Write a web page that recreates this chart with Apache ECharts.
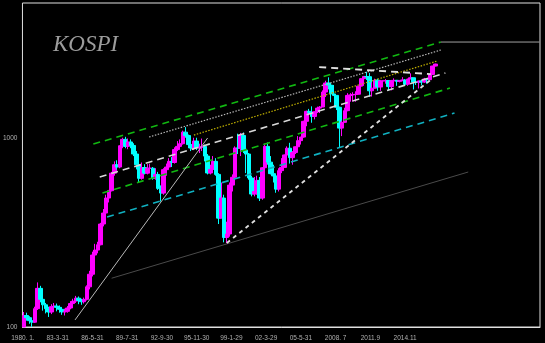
<!DOCTYPE html>
<html><head><meta charset="utf-8">
<script src="https://cdn.jsdelivr.net/npm/echarts@6/dist/echarts.min.js"></script>
<style>html,body{margin:0;padding:0;background:#000}#c{width:545px;height:343px}</style>
</head><body><div id="c"></div><script>
// ---- data ----
const firstYear = 1980;
const monthCount = 566; // monthly category slots shown on the axis (1980.1 onward)
const tickLabels = ['1980. 1.','83-3-31','86-5-31','89-7-31','92-9-30','95-11-30','99-1-29','02-3-29','05-5-31','2008. 7','2011.9','2014.11'];
const tickEvery = 38; // months between tick labels

// quarterly KOSPI candles, 1980Q1 .. 2017Q3
const qOpen = [
 100,115,112,108, 106,125,160,140, 131,125,120,128, 129,127,124,120, 121,126,133,137,
 142,138,136,140, 163,190,240,255, 272,350,400,480, 525,650,720,700, 907,980,900,950,
 910,820,720,610, 696,650,690,690, 611,640,540,510, 678,700,750,740, 866,900,930,1070,
 1027,920,880,960, 883,890,900,800, 651,680,750,640, 376,480,297,310, 562,618,883,880,
 1028,860,820,613, 504,520,595,480, 694,900,743,646, 628,535,670,697, 811,880,785,835,
 896,965,1008,1221, 1379,1359,1295,1371, 1434,1453,1743,1946, 1897,1704,1674,1448, 1124,1206,1390,1673,
 1683,1693,1698,1873, 2051,2107,2101,1770, 1826,2014,1854,1996, 1997,2005,1863,1997, 2011,1986,2002,2020,
 1916,2041,2074,1963, 1961,1996,1970,2043, 2026,2160,2392];
const qClose = [
 115,112,108,106, 125,160,140,131, 125,120,128,129, 127,124,120,121, 126,133,137,142,
 138,136,140,163, 190,240,255,272, 350,400,480,525, 650,720,700,907, 980,900,950,910,
 820,720,610,696, 650,690,690,611, 640,540,510,678, 700,750,740,866, 900,930,1070,1027,
 920,880,960,883, 890,900,800,651, 680,750,640,376, 480,297,310,562, 618,883,880,1028,
 860,820,613,504, 520,595,480,694, 900,743,646,628, 535,670,697,811, 880,785,835,896,
 965,1008,1221,1379, 1359,1295,1371,1434, 1453,1743,1946,1897, 1704,1674,1448,1124, 1206,1390,1673,1683,
 1693,1698,1873,2051, 2107,2101,1770,1826, 2014,1854,1996,1997, 2005,1863,1997,2011, 1986,2002,2020,1916,
 2041,2074,1963,1961, 1996,1970,2043,2026, 2160,2392,2450];
const qLow = [
 100,108,104,100, 105,123,135,122, 118,113,117,122, 121,119,116,115, 119,124,129,134,
 132,131,133,138, 158,185,230,245, 270,340,395,455, 520,630,680,690, 880,880,870,880,
 800,680,580,600, 640,640,660,600, 600,530,460,500, 630,690,700,730, 850,880,920,1000,
 880,850,860,860, 830,850,750,640, 640,660,630,350, 380,280,277,300, 520,610,820,800,
 830,650,600,490, 490,500,463,470, 690,720,640,580, 512,520,650,700, 800,730,720,820,
 880,920,1000,1150, 1320,1200,1250,1350, 1350,1450,1640,1800, 1540,1660,1400,892, 1020,1200,1380,1550,
 1550,1550,1690,1840, 1880,2020,1644,1650, 1820,1770,1770,1850, 1930,1770,1780,1960, 1880,1960,1990,1880,
 1880,2040,1800,1900, 1820,1890,1950,1930, 2020,2150,2380];
const qHigh = [
 120,119,114,110, 128,172,165,145, 134,128,132,134, 133,130,127,125, 129,137,141,146,
 145,141,143,166, 198,250,275,282, 355,420,500,530, 660,750,760,910, 1000,1011,990,980,
 935,850,740,740, 725,725,730,700, 690,660,560,690, 730,780,790,890, 960,980,1090,1138,
 1040,960,1000,1000, 930,990,920,820, 720,800,780,650, 580,500,360,580, 640,900,1050,1060,
 1066,870,830,630, 620,630,620,700, 930,943,800,720, 640,690,780,815, 900,940,850,900,
 1020,1010,1230,1390, 1420,1465,1380,1460, 1470,1780,2000,2085, 1900,1900,1670,1460, 1230,1440,1720,1720,
 1740,1760,1880,2060, 2120,2231,2200,1960, 2050,2050,2020,2000, 2040,2010,2020,2060, 2020,2020,2090,2040,
 2050,2190,2080,2060, 2000,2020,2070,2060, 2170,2400,2460];

// trend lines: [monthIndex, value] end points
const greenTop    = [[77, 926], [457, 3203]];
const grayDotted  = [[138, 1009], [457, 2906]];
const oliveDotted = [[187, 1033], [453, 2542]];
const whiteMid    = [[84, 620], [462, 2197]];
const greenLow    = [[87, 510], [467, 1830]];
const cyanLow     = [[92, 381], [472, 1350]];
const grayLong    = [[97, 181], [487, 659]];
const grayRise86  = [[57, 109], [202, 997]];
const whiteRise98 = [[223, 278], [447, 2042]];
const whiteTopFlat= [[324, 2363], [446, 2170]];
const levelLine   = [[457, 3203], [565, 3203]];

// ---- chart ----
const months = [];
for (let i = 0; i < monthCount; i++) months.push((firstYear + Math.floor(i / 12)) + '-' + (i % 12 + 1));
const candles = qOpen.map((o, q) => [3 * q + 1, o, qClose[q], qLow[q], qHigh[q]]);

function seg(data, color, width, type) {
  return { type: 'line', data: data, symbol: 'none', silent: true, animation: false,
    lineStyle: { color: color, width: width, type: type }, z: 3 };
}

const chart = echarts.init(document.getElementById('c'));
chart.setOption({
  backgroundColor: '#000',
  animation: false,
  title: { text: 'KOSPI', left: 48, top: 28,
    textStyle: { fontFamily: 'Liberation Serif', fontStyle: 'italic', fontWeight: 'normal', fontSize: 23, color: '#9c9c9c' } },
  grid: { left: 20, right: 5, top: 3, bottom: 16, show: true, borderColor: '#e0e0e0', borderWidth: 1, backgroundColor: 'transparent' },
  xAxis: { type: 'category', data: months, boundaryGap: true,
    axisLine: { show: true, lineStyle: { color: '#e0e0e0' } }, axisTick: { show: false },
    splitLine: { show: false },
    axisLabel: { interval: tickEvery - 1, color: '#b0b0b0', fontSize: 6.5, margin: 8, fontFamily: 'Liberation Sans',
      formatter: (v, idx) => { const k = idx / tickEvery; return Number.isInteger(k) && tickLabels[k] ? tickLabels[k] : ''; } } },
  yAxis: { type: 'log', logBase: 10, min: 100, max: 5150,
    axisLine: { show: false }, axisTick: { show: false }, splitLine: { show: false },
    axisLabel: { color: '#b0b0b0', fontSize: 6.5, margin: 5, fontFamily: 'Liberation Sans',
      formatter: v => { const r = Math.round(v); return (r === 100 || r === 1000) ? String(r) : ''; } } },
  series: [
    { type: 'candlestick', data: candles, encode: { x: 0, y: [1, 2, 3, 4] }, barWidth: 4, z: 2,
      itemStyle: { color: '#ff00ff', color0: '#00ffff', borderColor: '#ff00ff', borderColor0: '#00ffff', borderWidth: 1 } },
    seg(greenTop, '#11b811', 1.6, [7, 5]),
    seg(grayDotted, '#b8b8b8', 1.2, [1.5, 1.5]),
    seg(oliveDotted, '#c0b000', 1.2, [1.5, 1.5]),
    seg(whiteMid, '#d8d8d8', 1.6, [7, 5]),
    seg(greenLow, '#11b811', 1.6, [7, 5]),
    seg(cyanLow, '#10b0c0', 1.6, [7, 5]),
    seg(grayLong, '#4a4a4a', 1, 'solid'),
    seg(grayRise86, '#b8b8b8', 1, 'solid'),
    seg(whiteRise98, '#e0e0e0', 1.8, [4, 4]),
    seg(whiteTopFlat, '#e0e0e0', 1.8, [7, 5]),
    seg(levelLine, '#a0a0a0', 1, 'solid')
  ]
});
</script></body></html>
